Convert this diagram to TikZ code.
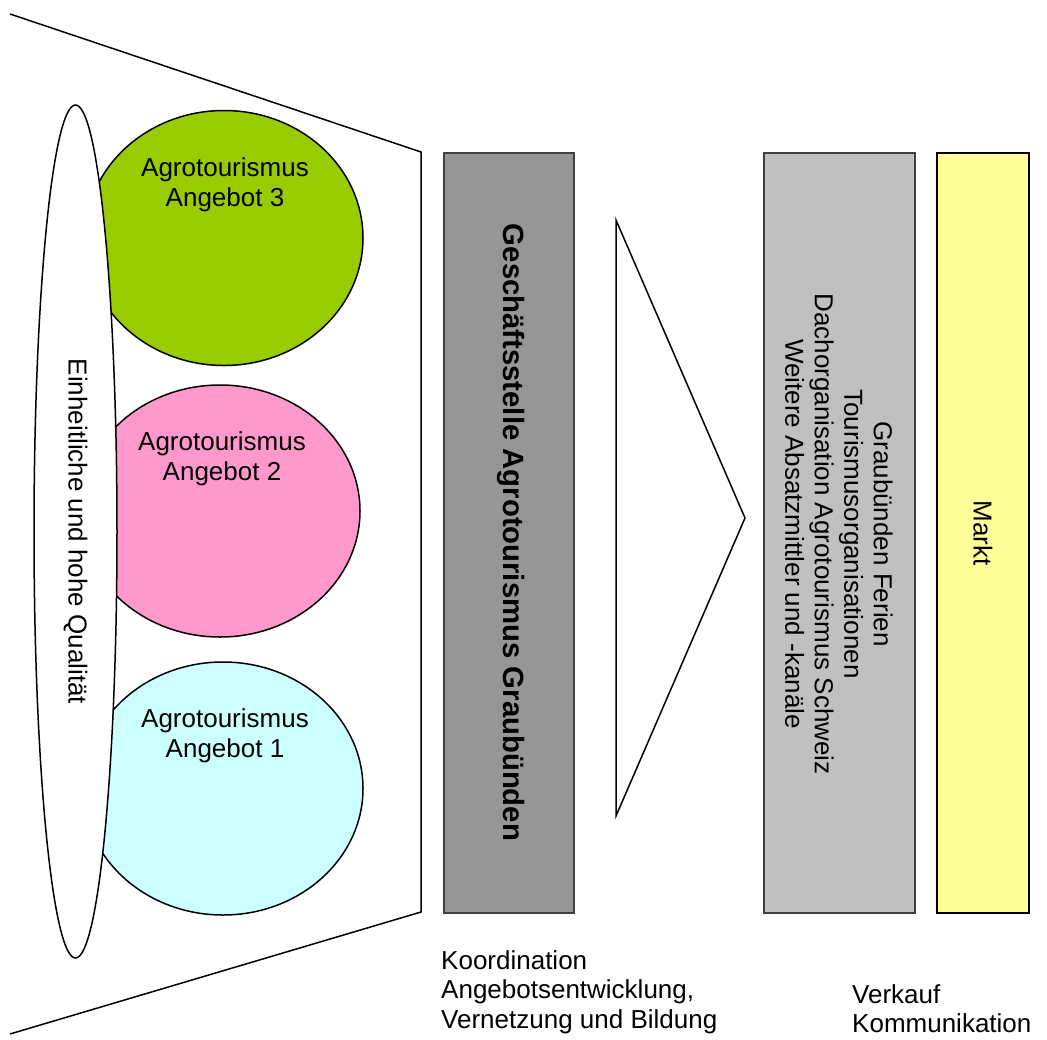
\documentclass[tikz,border=0pt]{standalone}
\usepackage{fontspec}
\setmainfont{Liberation Sans}
\usetikzlibrary{shapes.geometric}
\begin{document}
\begin{tikzpicture}[x=1pt,y=-1pt,
  txt/.style={font=\fontsize{26}{29.5}\selectfont, align=center, inner sep=0pt},
  outl/.style={draw=black, line width=1.5pt},
  bubble/.style={ellipse, draw=black, line width=1.5pt, inner sep=0pt},
  bar/.style={rectangle, draw=black!75, line width=2pt, inner sep=0pt, anchor=north west}]
\useasboundingbox (0,0) rectangle (1047,1039);
% funnel
\coordinate (ftl) at (10,14);
\coordinate (ftr) at (421,152);
\coordinate (fbr) at (421,912);
\coordinate (fbl) at (10,1034);
\draw[outl] (ftl) -- (ftr) -- (fbr) -- (fbl);
% offers
\node[bubble, fill={rgb,255:red,153;green,204;blue,0}, minimum width=278pt, minimum height=255pt] (o3) at (224,238) {};
\node[bubble, fill={rgb,255:red,255;green,153;blue,204}, minimum width=280pt, minimum height=252pt] (o2) at (220,511) {};
\node[bubble, fill={rgb,255:red,204;green,255;blue,255}, minimum width=280pt, minimum height=253pt] (o1) at (223,788.5) {};
\node[txt] (t3) at (225,185) {Agrotourismus\\Angebot 3};
\node[txt] (t2) at (222,459) {Agrotourismus\\Angebot 2};
\node[txt] (t1) at (225,736) {Agrotourismus\\Angebot 1};
% quality
\node[bubble, fill=white, minimum width=83pt, minimum height=853pt] (q) at (75.5,531.5) {};
\node[txt, rotate=-90] (qt) at (q.center) {Einheitliche und hohe Qualität};
% office
\node[bar, fill={rgb,255:red,150;green,150;blue,150}, minimum width=130pt, minimum height=760pt] (gs) at (443,152) {};
\node[txt, rotate=-90, font=\fontsize{29.3}{33}\selectfont\bfseries] (gst) at (511,532.5) {Geschäftsstelle Agrotourismus Graubünden};
% triangle
\coordinate (ta) at (616,220);
\coordinate (tb) at (745,518);
\coordinate (tc) at (616,816);
\draw[outl, line join=miter] (ta) -- (tb) -- (tc) -- cycle;
% channels
\node[bar, fill={rgb,255:red,192;green,192;blue,192}, minimum width=151pt, minimum height=760pt] (ch) at (763,152) {};
\node[txt, rotate=-90] (cht) at (839,534) {Graubünden Ferien\\Tourismusorganisationen\\Dachorganisation Agrotourismus Schweiz\\Weitere Absatzmittler und -kanäle};
% market
\node[bar, draw=black, fill={rgb,255:red,255;green,255;blue,153}, minimum width=92pt, minimum height=760pt] (mk) at (936,152) {};
\node[txt, rotate=-90] (mkt) at (mk.center) {Markt};
% captions
\node[txt, align=left, anchor=north west] (c1) at (441,950) {Koordination\\Angebotsentwicklung,\\Vernetzung und Bildung};
\node[txt, align=left, anchor=north west] (c2) at (852,984) {Verkauf\\Kommunikation};
\end{tikzpicture}
\end{document}
